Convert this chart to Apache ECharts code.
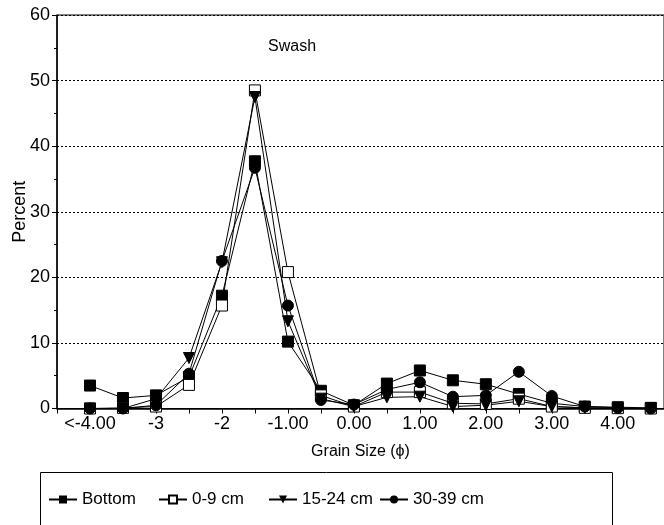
<!DOCTYPE html>
<html><head><meta charset="utf-8">
<script src="https://cdn.jsdelivr.net/npm/echarts@6/dist/echarts.min.js"></script>
<style>html,body{margin:0;padding:0;background:#fff}#c{width:664px;height:525px}</style>
</head><body><div id="c"></div>
<script>
// grain size (phi) positions; -4 stands for "<-4.00"
const grainSize = [-4, -3.5, -3, -2.5, -2, -1.5, -1, -0.5, 0, 0.5, 1, 1.5, 2, 2.5, 3, 3.5, 4, 4.5];
const bottom   = [3.5, 1.6, 2.0, 4.8, 17.2, 37.7, 10.2, 2.7, 0.5, 3.8, 5.8, 4.3, 3.7, 2.2, 0.8, 0.3, 0.2, 0.1];
const cm0_9    = [0.0, 0.1, 0.3, 3.6, 15.7, 48.5, 20.8, 2.0, 0.3, 2.5, 2.5, 0.8, 0.7, 1.5, 0.3, 0.1, 0.05, 0.0];
const cm15_24  = [0.0, 0.0, 1.5, 7.7, 22.3, 47.5, 13.3, 1.5, 0.3, 1.7, 1.8, 0.3, 0.5, 1.1, 0.3, 0.1, 0.0, 0.0];
const cm30_39  = [0.0, 0.0, 0.5, 5.3, 22.5, 36.7, 15.7, 1.3, 0.6, 2.9, 4.0, 1.8, 2.0, 5.6, 1.9, 0.3, 0.1, 0.0];
const xTickValues = [-4, -3, -2, -1, 0, 1, 2, 3, 4];
const xTickTexts  = ['<-4.00', '-3', '-2', '-1.00', '0.00', '1.00', '2.00', '3.00', '4.00'];
const seriesNames = ['Bottom', '0-9 cm', '15-24 cm', '30-39 cm'];

const pair = arr => grainSize.map((g, i) => [g, arr[i]]);
const FONT = 'Liberation Sans, Arial, sans-serif';
const chart = echarts.init(document.getElementById('c'), null, {renderer: 'canvas'});
const baseSeries = (name, data, symbol, extra) => Object.assign({
  name, type: 'line', data: pair(data), symbol, symbolSize: 11,
  lineStyle: {color: '#000', width: 1}, itemStyle: {color: '#000', borderColor: '#000'},
  animation: false, z: 3
}, extra || {});
const legendPos = [48, 158, 268, 379];
chart.setOption({
  animation: false,
  textStyle: {fontFamily: FONT},
  title: {text: 'Swash', left: 263, top: 34, textStyle: {fontSize: 16, fontWeight: 'normal', color: '#000', fontFamily: FONT}},
  grid: {left: 57, top: 15, right: 0, height: 393.5, show: true, borderColor: '#000', borderWidth: 1, outerBoundsMode: 'none', containLabel: false},
  xAxis: {
    type: 'value', min: -4.5, max: 4.7, interval: 0.5,
    name: 'Grain Size (ϕ)', nameLocation: 'middle', nameGap: 35, nameMoveOverlap: false,
    nameTextStyle: {fontSize: 16, color: '#000', fontFamily: FONT},
    axisLine: {onZero: false, lineStyle: {color: '#000', width: 1.5}},
    axisTick: {show: true, length: 5, lineStyle: {color: '#000'}},
    splitLine: {show: false},
    axisLabel: {color: '#000', fontSize: 18, margin: 7, fontFamily: FONT, showMaxLabel: false,
      formatter: v => { const k = xTickValues.findIndex(t => Math.abs(t - v) < 1e-6); return k >= 0 ? xTickTexts[k] : ''; }}
  },
  yAxis: {
    type: 'value', min: 0, max: 60, interval: 10,
    name: 'Percent', nameLocation: 'middle', nameGap: 28, nameMoveOverlap: false,
    nameTextStyle: {fontSize: 18, color: '#000', fontFamily: FONT},
    axisLine: {show: true, onZero: false, lineStyle: {color: '#000', width: 1.5}},
    axisTick: {show: true, length: 5, lineStyle: {color: '#000'}},
    minorTick: {show: true, splitNumber: 2, length: 3, lineStyle: {color: '#000'}},
    splitLine: {show: true, lineStyle: {color: '#000', type: [2, 2], width: 1}},
    axisLabel: {color: '#000', fontSize: 18, margin: 7, fontFamily: FONT}
  },
  legend: seriesNames.map((n, i) => ({
    data: [n], left: legendPos[i], top: 491, itemWidth: 28, itemHeight: 10, itemGap: 0,
    textStyle: {fontSize: 17, color: '#000', fontFamily: FONT}, padding: 0
  })),
  graphic: [{type: 'rect', shape: {x: 40.5, y: 472.5, width: 572, height: 70}, style: {fill: 'none', stroke: '#000', lineWidth: 1}, silent: true}],
  series: [
    baseSeries(seriesNames[0], bottom, 'rect'),
    baseSeries(seriesNames[1], cm0_9, 'rect', {itemStyle: {color: '#fff', borderColor: '#000', borderWidth: 1}}),
    baseSeries(seriesNames[2], cm15_24, 'triangle', {symbolRotate: 180}),
    baseSeries(seriesNames[3], cm30_39, 'circle')
  ]
});
</script></body></html>
